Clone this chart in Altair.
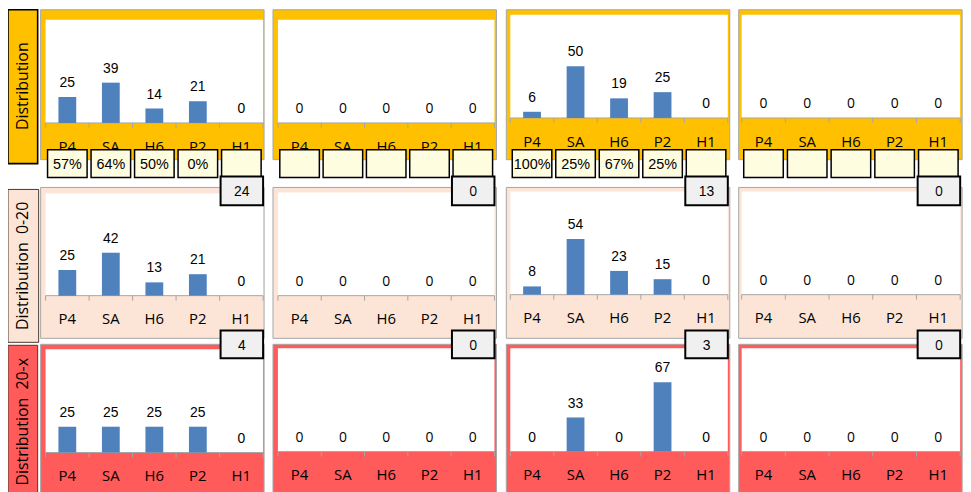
import altair as alt
import pandas as pd

# ---------------- data ----------------
cats = ["P4", "SA", "H6", "P2", "H1"]
row_titles = ["Distribution", "Distribution\u00a0\u00a00-20", "Distribution\u00a0\u00a020-x"]

# row 1: Distribution (4 panels)
dist_c1 = [25, 39, 14, 21, 0]
dist_c2 = [0, 0, 0, 0, 0]
dist_c3 = [6, 50, 19, 25, 0]
dist_c4 = [0, 0, 0, 0, 0]
# row 2: Distribution 0-20
low_c1 = [25, 42, 13, 21, 0]
low_c2 = [0, 0, 0, 0, 0]
low_c3 = [8, 54, 23, 15, 0]
low_c4 = [0, 0, 0, 0, 0]
# row 3: Distribution 20-x
high_c1 = [25, 25, 25, 25, 0]
high_c2 = [0, 0, 0, 0, 0]
high_c3 = [0, 33, 0, 67, 0]
high_c4 = [0, 0, 0, 0, 0]

# percentage boxes under row 1
pct_c1 = ["57%", "64%", "50%", "0%", ""]
pct_c2 = ["", "", "", "", ""]
pct_c3 = ["100%", "25%", "67%", "25%", ""]
pct_c4 = ["", "", "", "", ""]

# count boxes (top right of rows 2 and 3)
count_low = [24, 0, 13, 0]
count_high = [4, 0, 3, 0]

values = [[dist_c1, dist_c2, dist_c3, dist_c4],
          [low_c1, low_c2, low_c3, low_c4],
          [high_c1, high_c2, high_c3, high_c4]]
pcts = [pct_c1, pct_c2, pct_c3, pct_c4]
counts = [count_low, count_high]

# ---------------- layout ----------------
SX = 0.996


def X(rx):
    return round((rx - 3) * SX, 2)


def Y(ry):
    return ry - 6


W, H = 962, 484
ROW_FILL = ["#FFC000", "#FCE4D6", "#FF5B5B"]
FRAME_X = [(36, 262), (271, 497), (507, 733), (742, 968)]
WHITE_X = [(41, 261), (276, 495), (511, 731), (745, 966)]
FRAME_Y = [(6, 157), (185, 337), (343, 500)]
WHITE_TOP = [[16, 16, 11, 11], [191, 190, 189, 189], [348, 347, 347, 347]]
AXIS_Y = [[120, 120, 115, 115], [294, 294, 293, 293], [452, 451, 451, 451]]
LABEL_BOX = [(3, 33, 6, 161), (3, 34, 187, 341), (3, 33, 344, 498)]
LABEL_CY = [83, 264, 421]
PCT_Y = (147, 175)
COUNT_Y = [(174, 203), (329, 357)]
BAR = "#4F81BD"
AXC = "#A6A6A6"
ARIAL = "Liberation Sans, Arial, sans-serif"
CAL = "Open Sans, sans-serif"
SANS_BY_COL = [ARIAL, CAL, ARIAL, CAL]

# ---------------- decorations ----------------
rects = []
for r in range(3):
    x0, x1, y0, y1 = LABEL_BOX[r]
    rects.append(dict(x=X(x0), x2=X(x1), y=Y(y0), y2=Y(y1), fill=ROW_FILL[r],
                      stroke="#000000" if r == 0 else "#4A3A30", sw=1.6 if r == 0 else 1))
for r in range(3):
    for c in range(4):
        fx0, fx1 = FRAME_X[c]
        fy0, fy1 = FRAME_Y[r]
        rects.append(dict(x=X(fx0), x2=X(fx1), y=Y(fy0), y2=Y(fy1), fill=ROW_FILL[r],
                          stroke="#A6A6A6", sw=1))
        wx0, wx1 = WHITE_X[c]
        rects.append(dict(x=X(wx0), x2=X(wx1), y=Y(WHITE_TOP[r][c]), y2=Y(AXIS_Y[r][c]),
                          fill="#FFFFFF", stroke="#FFFFFF", sw=0))
rect_df = pd.DataFrame(rects)

bg = alt.Chart(rect_df).mark_rect().encode(
    x=alt.X("x:Q", scale=None, axis=None), x2="x2:Q",
    y=alt.Y("y:Q", scale=None, axis=None), y2="y2:Q",
    fill=alt.Fill("fill:N", scale=None),
    stroke=alt.Stroke("stroke:N", scale=None),
    strokeWidth=alt.StrokeWidth("sw:Q", scale=None),
)

rules = []
for r in range(3):
    for c in range(4):
        wx0, wx1 = WHITE_X[c]
        ax = AXIS_Y[r][c]
        rules.append(dict(x=X(wx0), x2=X(wx1), y=Y(ax), y2=Y(ax)))
        rules.append(dict(x=X(wx1), x2=X(wx1), y=Y(ax), y2=Y(ax) + 5))
axis_lines = alt.Chart(pd.DataFrame(rules)).mark_rule(color=AXC, strokeWidth=1).encode(
    x=alt.X("x:Q", scale=None, axis=None), x2="x2:Q",
    y=alt.Y("y:Q", scale=None, axis=None), y2="y2:Q",
)

row_lab_df = pd.DataFrame({
    "x": [X(18.5)] * 3,
    "y": [Y(v) for v in LABEL_CY],
    "t": row_titles,
})
row_labels = alt.Chart(row_lab_df).mark_text(
    angle=270, font=CAL, fontSize=16, color="#000000", align="center", baseline="middle"
).encode(
    x=alt.X("x:Q", scale=None, axis=None), y=alt.Y("y:Q", scale=None, axis=None), text="t:N"
)


# ---------------- panels ----------------
def panel(r, c):
    wx0, wx1 = WHITE_X[c]
    top = WHITE_TOP[r][c]
    ax = AXIS_Y[r][c]
    vals = values[r][c]
    df = pd.DataFrame({"cat": cats, "v": vals, "lab": [str(v) for v in vals],
                       "pct": pcts[c]})
    xs = alt.Scale(domain=cats, range=[X(wx0), X(wx1)], paddingInner=0, paddingOuter=0)
    ys = alt.Scale(domain=[0, 100], range=[Y(ax), Y(top)], nice=False, zero=True)
    xenc = alt.X("cat:N", scale=xs, axis=None, sort=cats)
    base = alt.Chart(df)
    ticks = base.mark_rule(color=AXC, strokeWidth=1).encode(
        x=alt.X("cat:N", scale=xs, axis=None, sort=cats, bandPosition=0),
        y=alt.value(Y(ax)), y2=alt.value(Y(ax) + 5),
    )
    bars = base.mark_bar(width=18 * SX, color=BAR).encode(
        x=xenc, y=alt.Y("v:Q", scale=ys, axis=None)
    )
    vlab = base.mark_text(font=SANS_BY_COL[c], fontSize=14, color="#000000",
                          baseline="alphabetic", dy=-10).encode(
        x=xenc, y=alt.Y("v:Q", scale=ys, axis=None), text="lab:N"
    )
    clab = base.mark_text(font=CAL, fontSize=15, color="#000000",
                          baseline="alphabetic").encode(
        x=xenc, y=alt.value(Y(ax + 29)), text="cat:N"
    )
    layers = [ticks, bars, vlab, clab]
    if r == 0:
        pbox = base.mark_bar(width=40 * SX, fill="#FFFDE0", stroke="#000000",
                             strokeWidth=1.5).encode(
            x=xenc, y=alt.value(Y(PCT_Y[0])), y2=alt.value(Y(PCT_Y[1]))
        )
        ptxt = base.mark_text(font=ARIAL, fontSize=14.5, color="#000000",
                              baseline="alphabetic").encode(
            x=xenc, y=alt.value(Y(PCT_Y[0] + 19)), text="pct:N"
        )
        layers += [pbox, ptxt]
    return alt.layer(*layers)


panels = [panel(r, c) for r in range(3) for c in range(4)]

# ---------------- count boxes ----------------
cnt = []
for i in range(2):
    y0, y1 = COUNT_Y[i]
    for c in range(4):
        wx1 = WHITE_X[c][1]
        cnt.append(dict(x=X(wx1 - 43), x2=X(wx1), y=Y(y0), y2=Y(y1),
                        xc=X(wx1 - 21.5), yc=Y(y0 + 19.5),
                        lab=str(counts[i][c]), grp="a" if c in (0, 2) else "b"))
cnt_df = pd.DataFrame(cnt)
cbox = alt.Chart(cnt_df).mark_rect(fill="#F0F0F0", stroke="#000000", strokeWidth=2).encode(
    x=alt.X("x:Q", scale=None, axis=None), x2="x2:Q",
    y=alt.Y("y:Q", scale=None, axis=None), y2="y2:Q",
)
ctxt_a = alt.Chart(cnt_df).transform_filter(alt.datum.grp == "a").mark_text(
    font=ARIAL, fontSize=14, color="#000000", baseline="alphabetic"
).encode(x=alt.X("xc:Q", scale=None, axis=None), y=alt.Y("yc:Q", scale=None, axis=None),
         text="lab:N")
ctxt_b = alt.Chart(cnt_df).transform_filter(alt.datum.grp == "b").mark_text(
    font=CAL, fontSize=14, color="#000000", baseline="alphabetic"
).encode(x=alt.X("xc:Q", scale=None, axis=None), y=alt.Y("yc:Q", scale=None, axis=None),
         text="lab:N")

chart = alt.layer(bg, axis_lines, *panels, cbox, ctxt_a, ctxt_b, row_labels).resolve_scale(
    x="independent", y="independent"
).properties(
    width=W, height=H, padding=0,
    autosize=alt.AutoSizeParams(type="none"),
    background="#FFFFFF",
).configure_view(stroke=None)

chart.save("out.html", embed_options={"renderer": "svg", "actions": False})
